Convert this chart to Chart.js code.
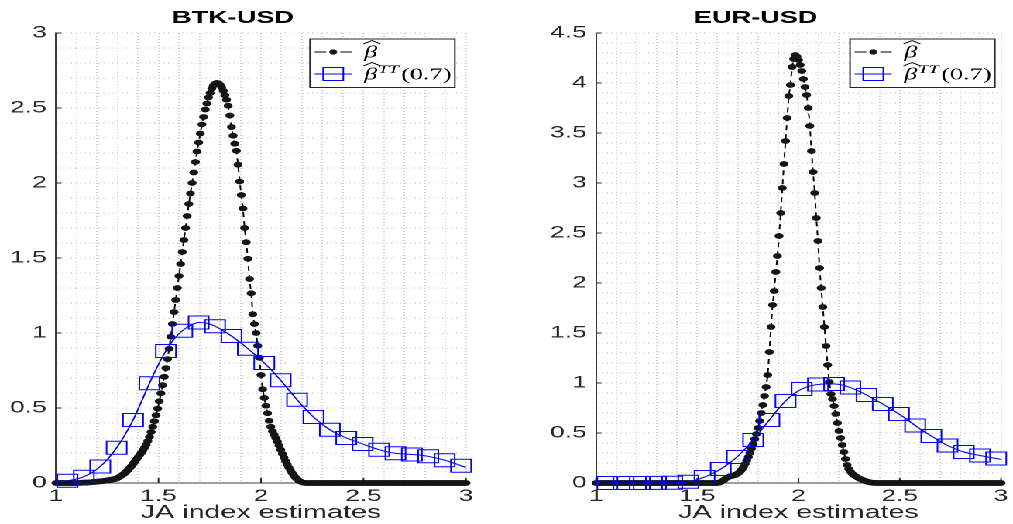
<!DOCTYPE html>
<html>
<head>
<meta charset="utf-8">
<title>JA index estimates</title>
<script src="https://cdn.jsdelivr.net/npm/chart.js@4.4.1/dist/chart.umd.min.js"></script>
<style>
  html, body { margin: 0; padding: 0; background: #fff; overflow: hidden; }
  /* The figure is laid out on a narrower stage and widened horizontally. */
  #stage { position: absolute; left: 0; top: 0; width: 654px; height: 524px;
           transform-origin: 0 0; transform: scaleX(1.5489); }
  .pane { position: absolute; top: 0; width: 327px; height: 524px; }
  #paneL { left: 0; }
  #paneR { left: 327px; }
</style>
</head>
<body>
<div id="stage">
  <div class="pane" id="paneL"><canvas id="btk" width="327" height="524"></canvas></div>
  <div class="pane" id="paneR"><canvas id="eur" width="327" height="524"></canvas></div>
</div>
<script>
// ---- evaluation grid of the density estimates (x = 1 + 0.008 k) ----
const GRID_START = 1.0, GRID_STEP = 0.008, GRID_COUNT = 251;
const gridX = Array.from({ length: GRID_COUNT }, (_, k) => +(GRID_START + GRID_STEP * k).toFixed(3));

// ---- beta-hat density, BTK-USD ----
const btkBeta = [
  0,0,0,0,0,0,0,0,0,0,0,0,0,0,
  0.001,0.001,0.002,0.002,0.003,0.003,0.004,0.005,0.006,0.007,
  0.008,0.009,0.010,0.011,0.012,0.013,0.015,0.017,0.019,0.021,
  0.023,0.025,0.027,0.030,0.036,0.043,0.050,0.058,0.067,0.077,
  0.088,0.100,0.113,0.127,0.142,0.157,0.172,0.187,0.202,0.218,
  0.236,0.256,0.280,0.308,0.340,0.375,0.412,0.452,0.496,0.545,
  0.598,0.652,0.708,0.766,0.826,0.895,0.975,1.060,1.140,1.220,
  1.300,1.380,1.460,1.540,1.620,1.700,1.780,1.860,1.930,2.000,
  2.070,2.140,2.210,2.270,2.330,2.390,2.440,2.490,2.530,2.570,
  2.600,2.630,2.650,2.662,2.667,2.665,2.655,2.638,2.615,2.585,
  2.555,2.515,2.450,2.373,2.315,2.262,2.215,2.122,2.010,1.920,
  1.830,1.700,1.605,1.495,1.360,1.265,1.125,1.060,1.000,0.915,
  0.835,0.720,0.625,0.567,0.515,0.465,0.415,0.375,0.345,0.322,
  0.300,0.276,0.250,0.222,0.195,0.170,0.146,0.124,0.103,0.084,
  0.066,0.050,0.037,0.026,0.017,0.010,0.005,0.002,0.001,
  0,0,0,0,0,0,0,0,0,0,0,0,0,0,0,0,0,0,0,0,0,0,0,0,0,0,0,0,0,0,0,0,0,
  0,0,0,0,0,0,0,0,0,0,0,0,0,0,0,0,0,0,0,0,0,0,0,0,0,0,0,0,0,0,0,0,0,
  0,0,0,0,0,0,0,0,0,0,0,0,0,0,0,0,0,0,0,0,0,0,0,0,0,0,0,0,0,0,0,0
];

// ---- beta-hat density, EUR-USD ----
const eurBeta = [
  0,0,0,0,0,0,0,0,0,0,0,0,0,0,0,0,0,0,0,0,0,0,0,0,0,0,0,0,0,0,0,0,0,0,0,0,0,0,
  0,0,0,0,0,0,0,0,0,0,0,0,0,0,0,0,0,0,0,0,0,0,0,0,0,0,0,0,0,0,0,0,0,0,0,0,0,0,
  0.003,0.010,0.020,0.030,0.045,0.055,0.062,0.068,0.072,0.076,
  0.082,0.090,0.100,0.115,0.135,0.160,0.190,0.225,0.260,0.300,
  0.345,0.390,0.440,0.490,0.550,0.620,0.700,0.780,0.870,0.960,
  1.080,1.310,1.560,1.780,1.920,2.110,2.270,2.470,2.700,2.950,
  3.190,3.420,3.650,3.870,3.980,4.160,4.240,4.280,4.265,4.230,
  4.180,4.120,4.040,3.960,3.880,3.750,3.570,3.320,3.110,2.900,
  2.650,2.420,2.150,1.950,1.760,1.560,1.370,1.180,1.010,0.890,
  0.840,0.770,0.690,0.600,0.520,0.450,0.380,0.310,0.240,0.180,
  0.140,0.115,0.095,0.080,0.070,0.060,0.050,0.042,0.035,0.028,
  0.022,0.016,0.011,0.007,0.004,0.002,0.001,
  0,0,0,0,0,0,0,0,0,0,0,0,0,0,0,0,0,0,0,0,0,0,0,0,0,0,0,0,0,0,0,0,0,0,0,0,0,0,0,
  0,0,0,0,0,0,0,0,0,0,0,0,0,0,0,0,0,0,0,0,0,0,0,0,0,0,0,0,0,0,0,0,0,0,0,0,0,0,0
];

// ---- beta-hat^TT(0.7) densities (coarser grid, square marker on every other point) ----
const ttX = [
  1.000, 1.016, 1.056, 1.096, 1.136, 1.176, 1.216, 1.256, 1.296, 1.336,
  1.376, 1.416, 1.456, 1.496, 1.536, 1.576, 1.616, 1.656, 1.696, 1.736,
  1.776, 1.816, 1.856, 1.896, 1.936, 1.976, 2.016, 2.056, 2.096, 2.136,
  2.176, 2.216, 2.256, 2.296, 2.336, 2.376, 2.416, 2.456, 2.496, 2.536,
  2.576, 2.616, 2.656, 2.696, 2.736, 2.776, 2.816, 2.856, 2.896, 2.936,
  2.976, 3.000
];
const btkBetaTT = [
  0.005, 0.008, 0.015, 0.025, 0.042, 0.070, 0.110, 0.165, 0.235, 0.320,
  0.420, 0.540, 0.665, 0.780, 0.880, 0.960, 1.015, 1.050, 1.070, 1.065,
  1.045, 1.015, 0.980, 0.940, 0.895, 0.850, 0.800, 0.745, 0.685, 0.620,
  0.555, 0.495, 0.440, 0.395, 0.355, 0.325, 0.300, 0.280, 0.260, 0.240,
  0.222, 0.208, 0.198, 0.193, 0.190, 0.186, 0.178, 0.166, 0.152, 0.135,
  0.115, 0.105
];
const eurBetaTT = [
  0.000, 0.000, 0.000, 0.000, 0.000, 0.000, 0.000, 0.000, 0.001, 0.001,
  0.002, 0.004, 0.012, 0.030, 0.060, 0.095, 0.140, 0.195, 0.260, 0.340,
  0.430, 0.530, 0.630, 0.730, 0.820, 0.890, 0.940, 0.970, 0.985, 0.990,
  0.990, 0.980, 0.955, 0.920, 0.880, 0.835, 0.790, 0.740, 0.690, 0.635,
  0.575, 0.520, 0.470, 0.420, 0.375, 0.340, 0.310, 0.290, 0.275, 0.260,
  0.245, 0.235
];

// ---- titles and tick labels ----
const panelTitles = ['BTK-USD', 'EUR-USD'];
const xTickLabels = ['1', '1.5', '2', '2.5', '3'];
const btkYTickLabels = ['0', '0.5', '1', '1.5', '2', '2.5', '3'];
const eurYTickLabels = ['0', '0.5', '1', '1.5', '2', '2.5', '3', '3.5', '4', '4.5'];
const xAxisTitle = 'JA index estimates';
const ttSuffix = '(0.7)';

const MAJOR = 0.5, MINOR = 0.1;
const SANS = '"Liberation Sans", Arial, sans-serif';
const SERIF = '"Liberation Serif", "Times New Roman", serif';
const AXIS_GREY = '#262626';

function isMajor(v) { return Math.abs(v / MAJOR - Math.round(v / MAJOR)) < 1e-6; }
function isTTMarker(i) { return i >= 2 && i <= ttX.length - 2 && i % 2 === 0; }

// short tick marks drawn inward from the left and bottom axes
const innerTicks = {
  id: 'innerTicks',
  beforeDatasetsDraw(chart) {
    const { ctx, chartArea: a, scales: { x, y } } = chart;
    ctx.save();
    ctx.strokeStyle = AXIS_GREY;
    ctx.lineWidth = 1;
    ctx.beginPath();
    x.ticks.forEach(t => {
      if (!isMajor(t.value)) return;
      const px = x.getPixelForValue(t.value);
      ctx.moveTo(px, a.bottom); ctx.lineTo(px, a.bottom - 5);
    });
    y.ticks.forEach(t => {
      if (!isMajor(t.value)) return;
      const py = y.getPixelForValue(t.value);
      ctx.moveTo(a.left, py); ctx.lineTo(a.left + 3.5, py);
    });
    ctx.stroke();
    ctx.restore();
  }
};

// beta with a wide hat; returns the x where following text starts
function drawBetaHat(ctx, x, baseline, size) {
  ctx.font = 'italic ' + size + 'px ' + SERIF;
  ctx.textBaseline = 'alphabetic';
  ctx.textAlign = 'left';
  ctx.fillText('\u03B2', x, baseline);
  const w = ctx.measureText('\u03B2').width;
  const top = baseline - size * 0.8;
  ctx.beginPath();
  ctx.moveTo(x - 0.5, top);
  ctx.lineTo(x + w / 2 + 0.8, top - 3.4);
  ctx.lineTo(x + w + 2, top);
  ctx.stroke();
  return x + w + 0.5;
}

// legend box in the upper part of each panel
const betaLegend = {
  id: 'betaLegend',
  afterDatasetsDraw(chart, args, o) {
    const { ctx, chartArea: a } = chart;
    const x0 = a.left + o.offsetX, y0 = o.top, w = o.width, h = o.height;
    ctx.save();
    ctx.fillStyle = '#fff';
    ctx.fillRect(x0, y0, w, h);
    ctx.strokeStyle = AXIS_GREY;
    ctx.lineWidth = 1;
    ctx.strokeRect(x0, y0, w, h);

    const s1 = x0 + 3, s2 = x0 + 27, sm = (s1 + s2) / 2;
    const r1 = y0 + 13, r2 = y0 + 35;

    // row 1: dashed black line with a dot
    ctx.strokeStyle = '#000';
    ctx.beginPath();
    ctx.moveTo(s1, r1); ctx.lineTo(s1 + 7.5, r1);
    ctx.moveTo(s2 - 7.5, r1); ctx.lineTo(s2, r1);
    ctx.stroke();
    ctx.fillStyle = '#1a1a1a';
    ctx.beginPath(); ctx.arc(sm, r1, 2.6, 0, Math.PI * 2); ctx.fill();

    // row 2: blue line with square
    ctx.strokeStyle = '#0000ff';
    ctx.beginPath(); ctx.moveTo(s1, r2); ctx.lineTo(s2, r2); ctx.stroke();
    ctx.strokeRect(sm - 6.5, r2 - 6.5, 13, 13);

    // labels
    ctx.fillStyle = '#000';
    ctx.strokeStyle = '#000';
    ctx.lineWidth = 0.9;
    const tx = x0 + 35;
    drawBetaHat(ctx, tx, r1 + 5.5, 17);
    let cx = drawBetaHat(ctx, tx, r2 + 5.5, 17);
    ctx.font = 'italic 12px ' + SERIF;
    ctx.fillText('TT', cx, r2 - 1);
    cx += ctx.measureText('TT').width + 1.5;
    ctx.font = '17px ' + SERIF;
    ctx.fillText(ttSuffix, cx, r2 + 5.5);
    ctx.restore();
  }
};

function buildPanel(canvasId, cfg) {
  const toPoints = (xs, ys) => xs.map((x, i) => ({ x, y: ys[i] }));
  return new Chart(document.getElementById(canvasId), {
    type: 'line',
    data: {
      datasets: [
        {
          label: 'beta',
          data: toPoints(gridX, cfg.beta),
          borderColor: '#000',
          borderWidth: 1,
          borderDash: [5, 4],
          pointRadius: 2.6,
          pointHoverRadius: 2.6,
          pointBackgroundColor: '#151515',
          pointBorderColor: '#151515',
          pointBorderWidth: 0.6,
          order: 2,
          clip: false
        },
        {
          label: 'betaTT',
          data: toPoints(ttX, cfg.tt),
          borderColor: '#0000ff',
          borderWidth: 1,
          cubicInterpolationMode: 'monotone',
          pointStyle: 'rect',
          pointRadius: c => isTTMarker(c.dataIndex) ? 9.2 : 0,
          pointHoverRadius: c => isTTMarker(c.dataIndex) ? 9.2 : 0,
          pointBackgroundColor: 'rgba(0,0,0,0)',
          pointBorderColor: '#0000ff',
          pointBorderWidth: 1,
          order: 1,
          clip: false
        }
      ]
    },
    options: {
      responsive: false,
      animation: false,
      devicePixelRatio: 2,
      events: [],
      layout: { padding: { left: 0, right: cfg.padRight, top: 0, bottom: 0 } },
      plugins: {
        legend: { display: false },
        tooltip: { enabled: false },
        title: {
          display: true,
          text: cfg.title,
          color: '#000',
          font: { family: SANS, size: 17.5, weight: 'bold' },
          padding: { top: 7.5, bottom: 4.5 }
        },
        betaLegend: { offsetX: 164, top: 39, width: 93.5, height: 48.5 }
      },
      scales: {
        x: {
          type: 'linear',
          min: 1, max: 3,
          ticks: {
            stepSize: MINOR, autoSkip: false, maxRotation: 0, padding: 3,
            color: AXIS_GREY, font: { family: SANS, size: 17 },
            callback: v => isMajor(v) ? xTickLabels[Math.round((v - 1) / MAJOR)] : ''
          },
          grid: { color: '#d2d2d2', lineWidth: 1, drawTicks: false },
          border: { display: true, color: '#3a3a3a', width: 1, dash: [1, 2] },
          title: {
            display: true, text: xAxisTitle, color: AXIS_GREY,
            font: { family: SANS, size: 18.5 }, padding: { top: 0, bottom: 0 }
          },
          afterFit: s => { s.height = 41; }
        },
        y: {
          type: 'linear',
          min: 0, max: cfg.yMax,
          ticks: {
            stepSize: MINOR, autoSkip: false, padding: 6,
            color: AXIS_GREY, font: { family: SANS, size: 17 },
            callback: v => isMajor(v) ? cfg.yLabels[Math.round(v / MAJOR)] : ''
          },
          grid: { color: '#d2d2d2', lineWidth: 1, drawTicks: false },
          border: { display: true, color: '#3a3a3a', width: 1, dash: [1, 2] },
          afterFit: s => { s.width = cfg.yWidth; }
        }
      }
    },
    plugins: [innerTicks, betaLegend]
  });
}

buildPanel('btk', {
  title: panelTitles[0], beta: btkBeta, tt: btkBetaTT,
  yMax: 3, yLabels: btkYTickLabels, yWidth: 36.15, padRight: 26.15
});
buildPanel('eur', {
  title: panelTitles[1], beta: eurBeta, tt: eurBetaTT,
  yMax: 4.5, yLabels: eurYTickLabels, yWidth: 57.8, padRight: 5.2
});
</script>
</body>
</html>
